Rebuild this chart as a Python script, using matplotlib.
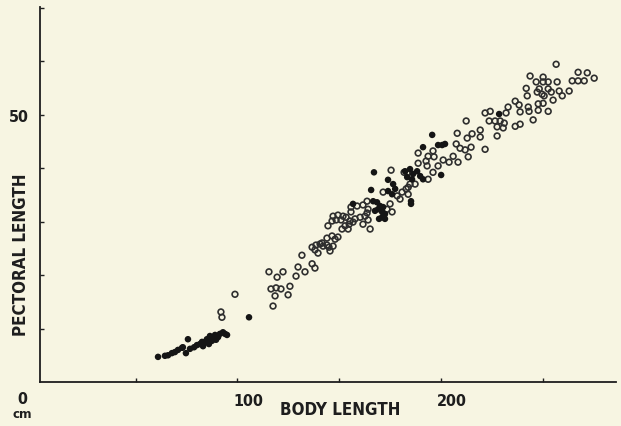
import matplotlib
matplotlib.use("Agg")
import matplotlib.pyplot as plt
from matplotlib.transforms import ScaledTranslation

# Body length (cm) and pectoral length (cm)
filled_body = [61.0, 64.4, 65.9, 67.8, 69.3, 70.8, 72.8, 73.2, 75.7, 74.7, 78.7, 81.6, 82.6,
               83.1, 84.1, 85.0, 86.5, 87.5, 88.0, 89.5, 90.5, 91.4, 92.9, 94.9, 76.7, 80.1,
               86.0, 89.0, 93.9, 105.7,
               156.8, 165.7, 167.1, 174.0, 176.5, 166.7, 168.6, 170.1, 169.1, 171.6, 171.1,
               172.5, 171.1, 169.6, 172.5, 167.6, 174.0, 176.0, 177.5, 185.3, 185.3, 182.4,
               184.8, 186.3, 188.3, 189.8, 191.2, 185.8, 183.4, 191.2, 195.7, 198.6, 200.6,
               202.0, 200.1, 228.6]
filled_pect = [4.7, 4.9, 5.0, 5.4, 5.6, 6.0, 6.4, 6.5, 8.0, 5.4, 6.5, 7.1, 7.5,
               6.7, 7.5, 8.0, 8.6, 7.7, 8.2, 7.9, 8.4, 9.0, 9.3, 8.8, 6.2, 6.9,
               7.1, 8.8, 9.0, 12.1,
               33.3, 35.9, 39.2, 37.8, 37.0, 33.8, 33.6, 32.9, 32.3, 32.7, 31.8,
               31.4, 30.8, 30.5, 30.5, 32.0, 35.7, 35.1, 36.1, 33.8, 33.3, 39.4,
               39.8, 38.9, 39.4, 38.5, 37.9, 37.9, 38.3, 43.9, 46.2, 44.3, 44.3,
               44.5, 38.7, 50.1]

open_body = [91.9, 92.4, 98.8, 115.5, 119.5, 122.4, 116.5, 119.0, 121.4, 118.5, 117.5, 124.9,
             125.8, 128.8, 129.8, 131.7, 133.2, 136.7, 138.1, 136.7, 138.6, 140.6, 138.1, 139.6,
             141.6, 144.0, 145.0, 145.5, 144.0, 146.5, 148.0, 149.4, 142.1, 147.0, 144.5, 147.0,
             149.4, 151.9, 148.5, 150.9, 153.4, 155.3, 156.8, 157.8, 160.3, 161.7, 165.2, 151.4,
             152.9, 154.4, 154.9, 155.8, 158.8, 155.8, 161.7, 163.7, 164.2, 163.7, 162.7, 164.2,
             146.5, 171.6, 178.5, 179.9, 180.9, 182.9, 183.9, 184.8, 175.0, 173.5, 176.0, 175.5,
             181.9, 183.4, 187.3, 183.9, 193.7, 196.1, 198.6, 188.8, 193.2, 188.8, 193.7, 192.7,
             196.1, 196.6, 201.1, 204.0, 206.0, 208.4, 213.4, 207.5, 209.4, 211.9, 214.8, 208.0,
             212.9, 215.3, 219.3, 219.3, 212.4, 221.7, 227.6, 221.7, 224.2, 223.7, 226.6, 227.6,
             229.1, 230.6, 231.1, 233.0, 232.0, 236.5, 238.4, 238.9, 236.5, 238.9, 242.9, 243.3,
             245.3, 247.8, 247.8, 250.2, 252.7, 241.9, 242.4, 243.8, 246.8, 250.2, 250.2, 252.7,
             247.3, 248.3, 249.7, 250.7, 252.7, 254.2, 257.1, 255.1, 258.1, 259.6, 263.0, 264.5,
             267.4, 267.4, 270.4, 271.9, 275.3, 256.6]
open_pect = [13.1, 12.1, 16.4, 20.6, 19.6, 20.6, 17.4, 17.6, 17.4, 16.1, 14.2, 16.3,
             17.9, 19.8, 21.5, 23.7, 20.6, 22.1, 21.3, 25.2, 25.6, 25.8, 24.7, 24.1,
             26.0, 25.6, 25.2, 24.5, 26.9, 27.3, 26.7, 27.1, 25.4, 25.4, 29.2, 31.0,
             31.2, 31.0, 30.3, 30.3, 30.8, 30.1, 29.9, 30.5, 30.8, 29.5, 28.6, 28.6,
             29.2, 28.6, 29.5, 31.8, 32.9, 32.7, 33.1, 33.8, 32.3, 31.6, 31.0, 30.3,
             30.1, 35.5, 34.8, 34.2, 35.5, 36.1, 36.4, 37.0, 33.3, 32.3, 31.8, 39.6,
             39.2, 39.1, 37.0, 35.1, 37.9, 39.2, 40.4, 40.9, 40.4, 42.8, 42.2, 41.3,
             43.2, 42.1, 41.5, 41.1, 42.2, 41.1, 42.1, 44.5, 43.7, 43.4, 43.9, 46.5,
             45.6, 46.4, 45.8, 47.1, 48.8, 43.5, 46.0, 50.3, 50.6, 48.8, 48.8, 47.7,
             48.8, 47.5, 48.4, 51.4, 50.3, 52.5, 51.8, 50.5, 47.8, 48.2, 51.4, 50.6,
             49.0, 50.8, 52.0, 52.1, 50.6, 54.9, 53.5, 57.2, 56.1, 57.0, 56.1, 56.1,
             54.2, 54.8, 53.8, 53.5, 54.8, 54.2, 56.1, 52.7, 54.4, 53.5, 54.4, 56.3,
             57.9, 56.3, 56.3, 57.8, 56.8, 59.4]

x_ticks = [50, 100, 150, 200, 250]
x_labels = ["", "100", "", "200", ""]
y_ticks = [10, 20, 30, 40, 50, 60, 70]
y_labels = ["", "", "", "", "50", "", ""]

bg = "#f7f5e2"
ink = "#1e1e1e"
fam = ["DejaVu Sans"]
fkw = dict(family=fam, stretch="condensed", weight="bold", color=ink)

fig = plt.figure(figsize=(6.21, 4.27), dpi=100, facecolor=bg)
ax = fig.add_axes([0.0644, 0.103, 0.9275, 0.8782], facecolor=bg)

ax.scatter(open_body, open_pect, s=17, facecolors="none", edgecolors="#2e2e2e",
           linewidths=1.2, zorder=2)
ax.scatter(filled_body, filled_pect, s=22, color="#151515", edgecolors="none", zorder=3)

ax.set_xlim(3, 286)
ax.set_ylim(0, 70.1)

for s in ["top", "right"]:
    ax.spines[s].set_visible(False)
for s in ["left", "bottom"]:
    ax.spines[s].set_linewidth(1.3)
    ax.spines[s].set_color(ink)

ax.set_xticks(x_ticks)
ax.set_xticklabels(x_labels)
ax.set_yticks(y_ticks)
ax.set_yticklabels(y_labels)
ax.tick_params(direction="in", length=3, width=1, colors=ink, labelsize=11.5, pad=8)
for lab in ax.get_xticklabels() + ax.get_yticklabels():
    lab.set_fontfamily(fam)
    lab.set_fontstretch("condensed")
    lab.set_fontweight("bold")
    lab.set_color(ink)
for lab in ax.get_xticklabels():
    lab.set_transform(lab.get_transform() + ScaledTranslation(8 / 72, 0, fig.dpi_scale_trans))

fig.text(340 / 621, 1 - 410 / 427, "BODY LENGTH", ha="center", va="center",
         fontsize=12.2, **fkw)
fig.text(21 / 621, 1 - 255 / 427, "PECTORAL LENGTH", ha="center", va="center",
         rotation=90, fontsize=12.2, **fkw)
fig.text(22 / 621, 1 - 400 / 427, "0", ha="center", va="center",
         fontsize=11.5, **fkw)
fig.text(22 / 621, 1 - 415 / 427, "cm", ha="center", va="center",
         fontsize=9.5, **fkw)

fig.savefig("out.png", dpi=100, facecolor=bg)
